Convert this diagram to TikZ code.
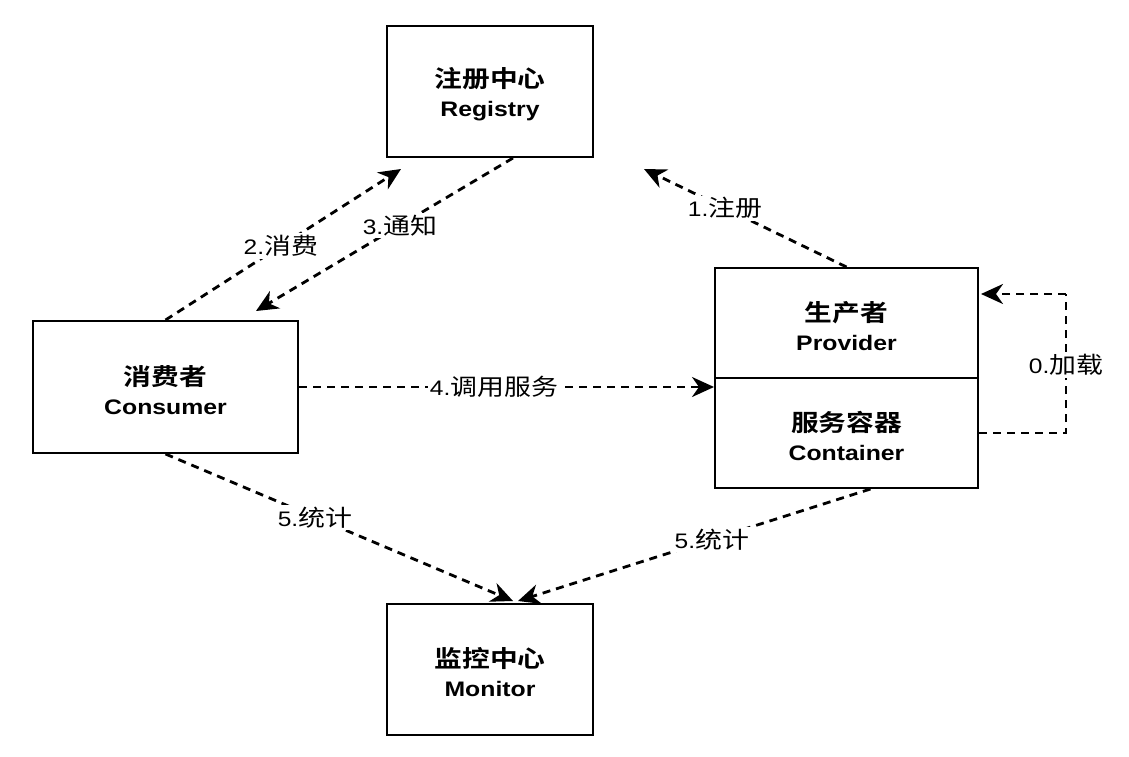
\documentclass[tikz,border=0pt]{standalone}
\usepackage{fontspec}
\setmainfont{Liberation Sans}
\newfontfamily\cjk{Noto Sans CJK SC}[BoldFont={Noto Sans CJK SC Bold}]
\usetikzlibrary{arrows.meta,calc}
% two-line box caption: Chinese name over English name, slightly wide type
\newcommand{\boxtext}[2]{%
  \rule{0pt}{26pt}\scalebox{1.18}[1]{\cjk\bfseries\fontsize{23.5}{27}\selectfont #1}\\
  \scalebox{1.18}[1]{\bfseries\fontsize{21}{27}\selectfont #2}}
% connector caption: number and Chinese words
\newcommand{\lbltext}[2]{%
  \scalebox{1.17}[1]{\fontsize{21}{24}\selectfont #1.\cjk\fontsize{23}{26}\selectfont #2}}

\begin{document}
\begin{tikzpicture}[x=1pt,y=-1pt,
  box/.style={draw, line width=2pt, inner sep=0pt, align=center,
              font=\fontsize{21}{29}\selectfont},
  flow/.style={line width=2.8pt, dash pattern=on 8pt off 6pt,
               -{Stealth[length=22pt,width=20pt,inset=7pt]}},
  loopline/.style={line width=2.8pt, dash pattern=on 8pt off 6pt},
  lbl/.style={fill=white, inner sep=2pt}]
\useasboundingbox (0,0) rectangle (1129,757);

% components
\node[box, minimum width=206pt, minimum height=131pt] (registry) at (490,91.5)
  {\boxtext{注册中心}{Registry}};
\node[box, minimum width=265pt, minimum height=132pt] (consumer) at (165.5,387)
  {\boxtext{消费者}{Consumer}};
\node[box, minimum width=263pt, minimum height=110pt] (provider) at (846.5,323)
  {\boxtext{生产者}{Provider}};
\node[box, minimum width=263pt, minimum height=110pt] (container) at (846.5,433)
  {\boxtext{服务容器}{Container}};
\node[box, minimum width=206pt, minimum height=131pt] (monitor) at (490,669.5)
  {\boxtext{监控中心}{Monitor}};

% 0. load: container starts the provider
\coordinate (loadA) at ($(container.east)+(87,0)$);
\coordinate (loadB) at ($(provider.north east)+(87,27)$);
\draw[loopline] (container.east) -- (loadA) -- node[lbl, pos=0.49] {\lbltext{0}{加载}} (loadB);
\draw[flow] (loadB) -- ($(provider.north east)+(2,27)$);

% 1. register
\draw[flow] (provider.north) -- node[lbl, pos=0.6] {\lbltext{1}{注册}}
  ($(registry.south east)+(50,11)$);

% 2. subscribe
\draw[flow] (consumer.north) -- node[lbl, pos=0.49] {\lbltext{2}{消费}}
  ($(registry.south west)+(15,11)$);

% 3. notify
\draw[flow] ($(registry.south)+(23,0)$) -- node[lbl, pos=0.44] {\lbltext{3}{通知}}
  ($(consumer.north east)+(-43,-9)$);

% 4. invoke
\draw[flow] (consumer.east) -- node[lbl, pos=0.47] {\lbltext{4}{调用服务}}
  (consumer.east -| container.west);

% 5. statistics
\draw[flow] (consumer.south) -- node[lbl, pos=0.43] {\lbltext{5}{统计}}
  ($(monitor.north)+(23,-2)$);
\draw[flow] ($(container.south)+(24,0)$) -- node[lbl, pos=0.45] {\lbltext{5}{统计}}
  ($(monitor.north)+(28,-2)$);
\end{tikzpicture}
\end{document}
